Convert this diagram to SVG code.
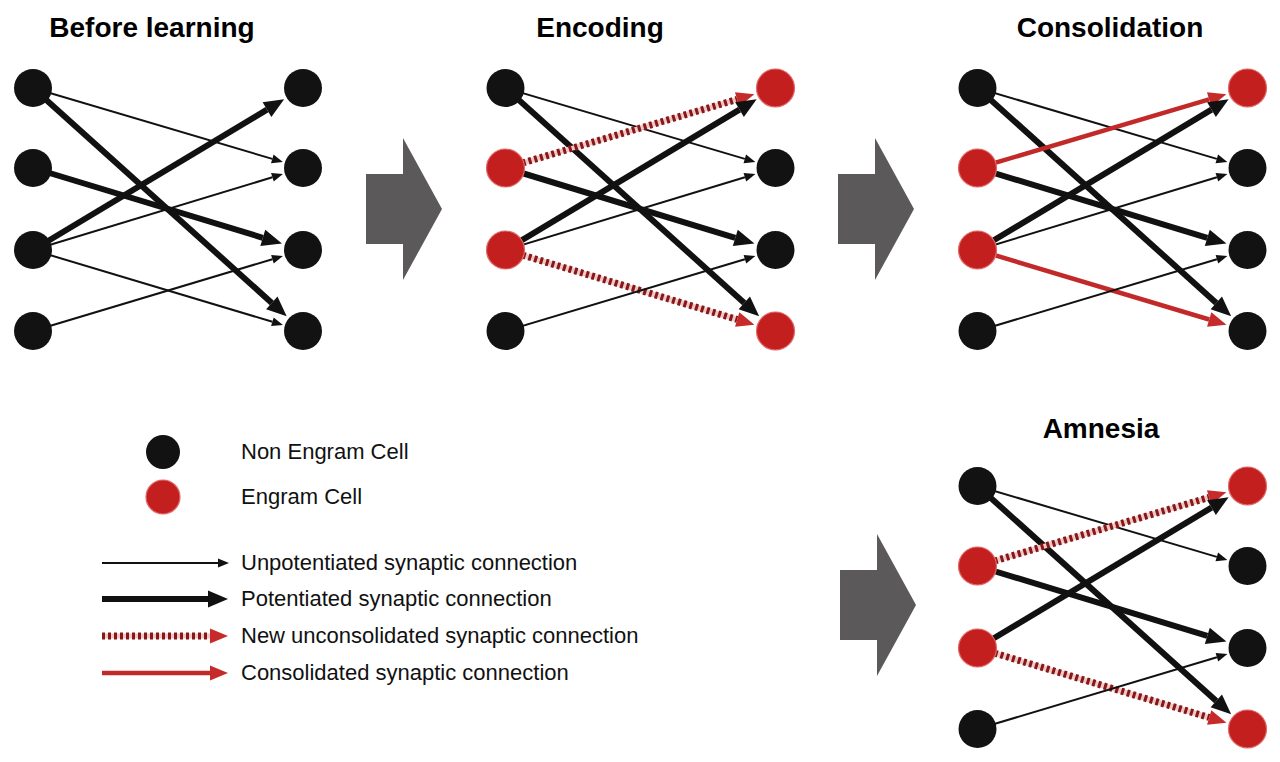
<svg xmlns="http://www.w3.org/2000/svg" width="1280" height="762" viewBox="0 0 1280 762">
<defs>
<style>
.title{font-family:"Liberation Sans",Arial,sans-serif;font-weight:bold;font-size:28px;fill:#000;text-anchor:middle}
.lt{font-family:"Liberation Sans",Arial,sans-serif;font-size:22px;fill:#111}
.thin{stroke:#111;stroke-width:2;fill:none;marker-end:url(#hThin)}
.thick{stroke:#111;stroke-width:6;fill:none;marker-end:url(#hThick)}
.dotbg{stroke:#f2c6c6;stroke-width:5;fill:none}
.dot{stroke:#861818;stroke-width:7;stroke-dasharray:3 3;fill:none;marker-end:url(#hRed)}
.cons{stroke:#c22a2a;stroke-width:4.5;fill:none;marker-end:url(#hRed)}
.nb{fill:#121212}
.nr{fill:#c41f1f;stroke:#e06a6a;stroke-width:1.2}
.big{fill:#5b5959}
</style>
<marker id="hThin" markerUnits="userSpaceOnUse" orient="auto" refX="0" refY="0" markerWidth="12" markerHeight="10" style="overflow:visible"><path d="M0,-4.5 L11,0 L0,4.5 Z" fill="#111"/></marker>
<marker id="hThick" markerUnits="userSpaceOnUse" orient="auto" refX="0" refY="0" markerWidth="20" markerHeight="18" style="overflow:visible"><path d="M0,-8.5 L20,0 L0,8.5 Z" fill="#111"/></marker>
<marker id="hRed" markerUnits="userSpaceOnUse" orient="auto" refX="0" refY="0" markerWidth="18" markerHeight="16" style="overflow:visible"><path d="M0,-7.5 L18,0 L0,7.5 Z" fill="#c62a2a"/></marker>
<path id="bigArrow" d="M366,174 H403 V138 L442,209 L403,280 V244 H366 Z"/>
</defs>
<rect width="1280" height="762" fill="#fff"/>

<!-- Titles -->
<text class="title" x="152" y="37">Before learning</text>
<text class="title" x="600" y="37">Encoding</text>
<text class="title" x="1110" y="37">Consolidation</text>
<text class="title" x="1101" y="438">Amnesia</text>

<!-- Big transition arrows -->
<g id="transition-arrows">
<use href="#bigArrow" class="big"/>
<use href="#bigArrow" class="big" transform="translate(472,0)"/>
<use href="#bigArrow" class="big" transform="translate(474,396)"/>
</g>

<!-- Before learning -->
<g id="panel-before" transform="translate(33,88)">
<g id="before-connectors">
<line class="thin" x1="0" y1="0" x2="239.3" y2="70.9"/>
<line class="thick" x1="0" y1="0" x2="238.8" y2="214.9"/>
<line class="thick" x1="0" y1="80" x2="229.8" y2="149.8"/>
<line class="thick" x1="0" y1="162" x2="234" y2="21.6"/>
<line class="thin" x1="0" y1="162" x2="239.4" y2="89.3"/>
<line class="thin" x1="0" y1="162" x2="239.4" y2="233.8"/>
<line class="thin" x1="0" y1="243" x2="239.4" y2="171.2"/>
</g>
<g id="before-L1"><circle class="nb" cx="0" cy="0" r="19"/></g>
<g id="before-L2"><circle class="nb" cx="0" cy="80" r="19"/></g>
<g id="before-L3"><circle class="nb" cx="0" cy="162" r="19"/></g>
<g id="before-L4"><circle class="nb" cx="0" cy="243" r="19"/></g>
<g id="before-R1"><circle class="nb" cx="270" cy="0" r="19"/></g>
<g id="before-R2"><circle class="nb" cx="270" cy="80" r="19"/></g>
<g id="before-R3"><circle class="nb" cx="270" cy="162" r="19"/></g>
<g id="before-R4"><circle class="nb" cx="270" cy="243" r="19"/></g>
</g>

<!-- Encoding -->
<g id="panel-encoding" transform="translate(505.5,88)">
<g id="encoding-connectors">
<line class="thin" x1="0" y1="0" x2="239.3" y2="70.9"/>
<line class="thick" x1="0" y1="0" x2="238.8" y2="214.9"/>
<line class="dotbg" x1="0" y1="80" x2="231.6" y2="11.4"/>
<line class="dot" x1="0" y1="80" x2="231.6" y2="11.4"/>
<line class="thick" x1="0" y1="80" x2="229.8" y2="149.8"/>
<line class="thick" x1="0" y1="162" x2="234" y2="21.6"/>
<line class="thin" x1="0" y1="162" x2="239.4" y2="89.3"/>
<line class="dotbg" x1="0" y1="162" x2="231.7" y2="231.5"/>
<line class="dot" x1="0" y1="162" x2="231.7" y2="231.5"/>
<line class="thin" x1="0" y1="243" x2="239.4" y2="171.2"/>
</g>
<g id="encoding-L1"><circle class="nb" cx="0" cy="0" r="19"/></g>
<g id="encoding-L2"><circle class="nr" cx="0" cy="80" r="19"/></g>
<g id="encoding-L3"><circle class="nr" cx="0" cy="162" r="19"/></g>
<g id="encoding-L4"><circle class="nb" cx="0" cy="243" r="19"/></g>
<g id="encoding-R1"><circle class="nr" cx="270" cy="0" r="19"/></g>
<g id="encoding-R2"><circle class="nb" cx="270" cy="80" r="19"/></g>
<g id="encoding-R3"><circle class="nb" cx="270" cy="162" r="19"/></g>
<g id="encoding-R4"><circle class="nr" cx="270" cy="243" r="19"/></g>
</g>

<!-- Consolidation -->
<g id="panel-consolidation" transform="translate(977.5,88)">
<g id="consolidation-connectors">
<line class="thin" x1="0" y1="0" x2="239.3" y2="70.9"/>
<line class="thick" x1="0" y1="0" x2="238.8" y2="214.9"/>
<line class="cons" x1="0" y1="80" x2="231.6" y2="11.4"/>
<line class="thick" x1="0" y1="80" x2="229.8" y2="149.8"/>
<line class="thick" x1="0" y1="162" x2="234" y2="21.6"/>
<line class="thin" x1="0" y1="162" x2="239.4" y2="89.3"/>
<line class="cons" x1="0" y1="162" x2="231.7" y2="231.5"/>
<line class="thin" x1="0" y1="243" x2="239.4" y2="171.2"/>
</g>
<g id="consolidation-L1"><circle class="nb" cx="0" cy="0" r="19"/></g>
<g id="consolidation-L2"><circle class="nr" cx="0" cy="80" r="19"/></g>
<g id="consolidation-L3"><circle class="nr" cx="0" cy="162" r="19"/></g>
<g id="consolidation-L4"><circle class="nb" cx="0" cy="243" r="19"/></g>
<g id="consolidation-R1"><circle class="nr" cx="270" cy="0" r="19"/></g>
<g id="consolidation-R2"><circle class="nb" cx="270" cy="80" r="19"/></g>
<g id="consolidation-R3"><circle class="nb" cx="270" cy="162" r="19"/></g>
<g id="consolidation-R4"><circle class="nb" cx="270" cy="243" r="19"/></g>
</g>

<!-- Amnesia -->
<g id="panel-amnesia" transform="translate(977.5,486)">
<g id="amnesia-connectors">
<line class="thin" x1="0" y1="0" x2="239.3" y2="70.9"/>
<line class="thick" x1="0" y1="0" x2="238.8" y2="214.9"/>
<line class="dotbg" x1="0" y1="80" x2="231.6" y2="11.4"/>
<line class="dot" x1="0" y1="80" x2="231.6" y2="11.4"/>
<line class="thick" x1="0" y1="80" x2="229.8" y2="149.8"/>
<line class="thick" x1="0" y1="162" x2="234" y2="21.6"/>
<line class="dotbg" x1="0" y1="162" x2="231.7" y2="231.5"/>
<line class="dot" x1="0" y1="162" x2="231.7" y2="231.5"/>
<line class="thin" x1="0" y1="243" x2="239.4" y2="171.2"/>
</g>
<g id="amnesia-L1"><circle class="nb" cx="0" cy="0" r="19"/></g>
<g id="amnesia-L2"><circle class="nr" cx="0" cy="80" r="19"/></g>
<g id="amnesia-L3"><circle class="nr" cx="0" cy="162" r="19"/></g>
<g id="amnesia-L4"><circle class="nb" cx="0" cy="243" r="19"/></g>
<g id="amnesia-R1"><circle class="nr" cx="270" cy="0" r="19"/></g>
<g id="amnesia-R2"><circle class="nb" cx="270" cy="80" r="19"/></g>
<g id="amnesia-R3"><circle class="nb" cx="270" cy="162" r="19"/></g>
<g id="amnesia-R4"><circle class="nr" cx="270" cy="243" r="19"/></g>
</g>

<!-- Legend -->
<g id="legend">
<g id="legend-nonengram"><circle class="nb" cx="163" cy="452" r="17"/><text class="lt" x="241" y="459">Non Engram Cell</text></g>
<g id="legend-engram"><circle class="nr" cx="163" cy="497" r="17"/><text class="lt" x="241" y="504">Engram Cell</text></g>
<g id="legend-unpot"><line class="thin" x1="102" y1="563" x2="218" y2="563"/><text class="lt" x="241" y="570">Unpotentiated synaptic connection</text></g>
<g id="legend-pot"><line class="thick" x1="102" y1="599" x2="208" y2="599"/><text class="lt" x="241" y="606">Potentiated synaptic connection</text></g>
<g id="legend-new"><line class="dotbg" x1="102" y1="636" x2="210" y2="636"/><line class="dot" x1="102" y1="636" x2="210" y2="636"/><text class="lt" x="241" y="643">New unconsolidated synaptic connection</text></g>
<g id="legend-cons"><line class="cons" x1="102" y1="673" x2="210" y2="673"/><text class="lt" x="241" y="680">Consolidated synaptic connection</text></g>
</g>
</svg>
